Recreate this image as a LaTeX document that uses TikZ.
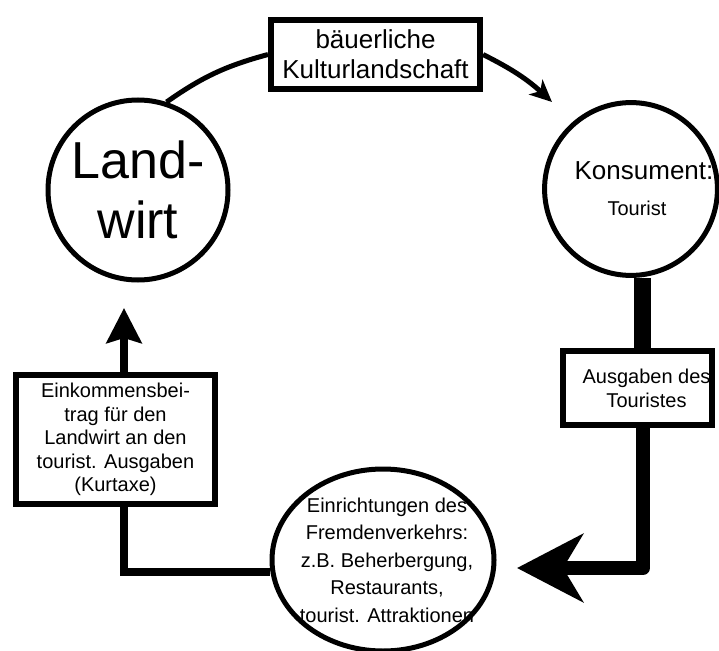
\documentclass[tikz,border=0pt]{standalone}
\usepackage{fontspec}
\setmainfont{Liberation Sans}
\usetikzlibrary{arrows.meta,shapes.geometric}
\begin{document}
\begin{tikzpicture}[x=1pt,y=-1pt,
  rund/.style={circle,draw,line width=5pt,inner sep=0pt,align=center},
  kasten/.style={rectangle,draw,line width=6pt,inner sep=0pt,align=center,fill=white},
  fluss/.style={line width=8pt}]
\useasboundingbox (0,0) rectangle (719,650);
% Kreise
\node[rund,minimum size=180pt,font=\fontsize{52}{60}\selectfont] (landwirt) at (138,190) {Land-\\wirt};
\node[rund,minimum size=172pt,font=\fontsize{26}{30}\selectfont] (konsument) at (631,189)
  {\hspace*{26pt}Konsument:\\[6pt]{\fontsize{20}{24}\selectfont\hspace*{12pt}Tourist}};
\node[ellipse,draw,line width=5pt,minimum width=222pt,minimum height=182pt] (einrichtungen) at (383,560) {};
\node[align=center,font=\fontsize{20}{27.5}\selectfont] (einrichtungentext) at ([xshift=4pt]einrichtungen.center)
  {Einrichtungen des\\Fremdenverkehrs:\\z.B. Beherbergung,\\Restaurants,\\tourist. Attraktionen};
% Kaesten
\node[kasten,minimum width=209pt,minimum height=69pt,font=\fontsize{26}{30}\selectfont] (kultur) at (375.5,54.5)
  {b\"auerliche\\Kulturlandschaft};
\node[kasten,minimum width=149pt,minimum height=74pt,font=\fontsize{20}{24}\selectfont] (ausgaben) at (637.5,388)
  {\hspace*{18pt}Ausgaben des\\\hspace*{18pt}Touristes};
\node[kasten,minimum width=199pt,minimum height=129pt,font=\fontsize{20}{23.5}\selectfont] (einkommen) at (115.5,439.5)
  {Einkommensbei-\\trag f\"ur den\\Landwirt an den\\tourist. Ausgaben\\(Kurtaxe)};
% Enden der Pfeile
\coordinate (kulturend) at (552,102);
\coordinate (ausgabenend) at (517,568);
\coordinate (einkommenend) at (124,308);
% Pfeile
\draw[line width=5pt] (landwirt.72) to[bend left=10] (kultur.west);
\draw[line width=5pt,-{Stealth[length=22pt,width=20pt,inset=6pt]}] (kultur.east) to[bend left=8] (kulturend);
\draw[line width=17pt] ([xshift=11pt]konsument.south) -- ([xshift=4.5pt]ausgaben.north);
\draw[line width=14pt,line join=round,-{Stealth[length=66pt,width=68pt,inset=20pt]}]
  ([xshift=5.5pt]ausgaben.south) |- (ausgabenend);
\draw[fluss] ([yshift=-12pt]einrichtungen.west) -| ([xshift=8.5pt]einkommen.south);
\draw[fluss,-{Stealth[length=35pt,width=35pt,inset=5pt]}] ([xshift=8.5pt]einkommen.north) -- (einkommenend);
\end{tikzpicture}
\end{document}
